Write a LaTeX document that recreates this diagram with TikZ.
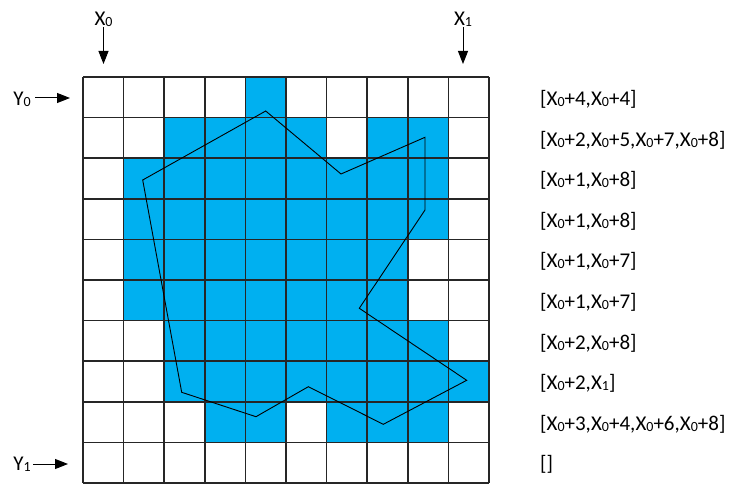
\documentclass[tikz,border=0pt]{standalone}
\usepackage{fontspec}
\setmainfont{Carlito}
\usetikzlibrary{arrows.meta}
\definecolor{cellblue}{HTML}{00B0F0}
\newcommand{\sbs}[1]{\raisebox{-1pt}{\fontsize{14}{14}\selectfont #1}}
\begin{document}
\begin{tikzpicture}[x=1pt,y=-1pt,
  lbl/.style={font=\fontsize{21}{24}\selectfont,inner sep=0pt},
  ptr/.style={line width=1pt,-{Triangle[length=13pt,width=10pt]}},
  gridline/.style={black!85,line width=1.6pt},
  outline/.style={black,line width=0.9pt,line join=miter}]
\useasboundingbox (0,0) rectangle (734,484);
\def\gx{83}\def\gy{77}\def\cs{40.6}
% filled cells
\foreach \r/\cols in {0/{4},1/{2,3,4,5,7,8},2/{1,2,3,4,5,6,7,8},3/{1,2,3,4,5,6,7,8},4/{1,2,3,4,5,6,7},5/{1,2,3,4,5,6,7},6/{2,3,4,5,6,7,8},7/{2,3,4,5,6,7,8,9},8/{3,4,6,7,8}}{
  \foreach \c in \cols {
    \fill[cellblue] ({\gx+\c*\cs},{\gy+\r*\cs}) rectangle ++(\cs,\cs);
  }
}
% grid
\foreach \i in {0,...,10}{
  \draw[gridline] ({\gx+\i*\cs},\gy) -- ({\gx+\i*\cs},{\gy+10*\cs});
  \draw[gridline] (\gx,{\gy+\i*\cs}) -- ({\gx+10*\cs},{\gy+\i*\cs});
}
% polygon
\draw[outline] (265.7,111) -- (341,174) -- (425,137.3) -- (425,210) -- (359.3,308.3)
  -- (466.7,380.3) -- (383.3,424.3) -- (308.3,386.7) -- (256,416.7) -- (181.7,392.3)
  -- (142.7,180) -- cycle;
% top labels and arrows
\node[lbl,anchor=south] (x0l) at (103.5,27) {X\sbs{0}};
\node[lbl,anchor=south] (x1l) at (463,27) {X\sbs{1}};
\coordinate (x0t) at (103.5,64);
\coordinate (x1t) at (463,64);
\draw[ptr] (x0l.south) -- (x0t);
\draw[ptr] (x1l.south) -- (x1t);
% left labels and arrows
\node[lbl,anchor=east] (y0l) at (31,99) {Y\sbs{0}};
\node[lbl,anchor=east] (y1l) at (31,464) {Y\sbs{1}};
\coordinate (y0t) at (70,98);
\coordinate (y1t) at (68,464);
\draw[ptr] ([xshift=4pt]y0l.east |- y0t) -- (y0t);
\draw[ptr] ([xshift=2pt]y1l.east |- y1t) -- (y1t);
% right labels
\foreach \r/\t in {0/{[X\sbs{0}+4,X\sbs{0}+4]},
  1/{[X\sbs{0}+2,X\sbs{0}+5,X\sbs{0}+7,X\sbs{0}+8]},
  2/{[X\sbs{0}+1,X\sbs{0}+8]},
  3/{[X\sbs{0}+1,X\sbs{0}+8]},
  4/{[X\sbs{0}+1,X\sbs{0}+7]},
  5/{[X\sbs{0}+1,X\sbs{0}+7]},
  6/{[X\sbs{0}+2,X\sbs{0}+8]},
  7/{[X\sbs{0}+2,X\sbs{1}]},
  8/{[X\sbs{0}+3,X\sbs{0}+4,X\sbs{0}+6,X\sbs{0}+8]},
  9/{[]}}{
  \node[lbl,anchor=west] (row\r) at (540,{\gy+(\r+0.5)*\cs+2}) {\t};
}
\end{tikzpicture}
\end{document}
